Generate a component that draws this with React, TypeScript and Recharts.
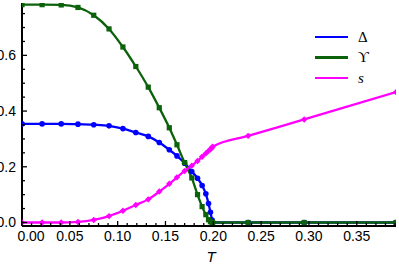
import React from 'react';
import { LineChart, Line, XAxis, YAxis, Legend } from 'recharts';

const T = [0, 0.021, 0.041, 0.0585, 0.075, 0.091, 0.1055, 0.119, 0.132, 0.1435, 0.154, 0.162, 0.170, 0.1775, 0.1835, 0.1883, 0.1922, 0.195, 0.197, 0.1987, 0.1993, 0.2364, 0.295, 0.391];
const DELTA = [0.354, 0.354, 0.354, 0.353, 0.351, 0.347, 0.337, 0.323, 0.309, 0.287, 0.261, 0.239, 0.213, 0.183, 0.159, 0.133, 0.103, 0.068, 0.037, 0.009, 0, 0, 0, 0];
const UPSILON = [0.782, 0.782, 0.781, 0.772, 0.744, 0.695, 0.630, 0.560, 0.486, 0.412, 0.340, 0.279, 0.215, 0.160, 0.100, 0.057, 0.028, 0.010, 0.003, 0, 0, 0, 0, 0];
const S = [0, 0, 0, 0.002, 0.009, 0.023, 0.042, 0.063, 0.083, 0.111, 0.139, 0.162, 0.185, 0.204, 0.221, 0.236, 0.248, 0.257, 0.263, 0.269, 0.272, 0.311, 0.370, 0.468];

const X_TICKS = Array.from({ length: 40 }, (_, i) => i / 100);
const Y_TICKS = Array.from({ length: 16 }, (_, i) => i / 20);

const data = T.map((t, i) => ({ T: t, delta: DELTA[i], ups: UPSILON[i], s: S[i] }));

const BLUE = '#0000ff';
const GREEN = '#0b620b';
const MAGENTA = '#ff00ff';
const FONT = '"Liberation Sans", Arial, sans-serif';

const isMajor = (v: number, step: number) => Math.abs(v / step - Math.round(v / step)) < 1e-6;

const XTickBottom = (props: any) => {
  const { x, y, payload } = props;
  const v = payload.value;
  const major = isMajor(v, 0.05);
  return (
    <g>
      <line x1={x} y1={y} x2={x} y2={y - (major ? 5 : 3)} stroke="#000" strokeWidth={1.3} />
      {major && (
        <text x={x + (v === 0 ? 9 : 0)} y={y + 15} textAnchor="middle" fontFamily={FONT} fontSize={14} fill="#000">
          {v.toFixed(2)}
        </text>
      )}
    </g>
  );
};

const XTickTop = (props: any) => {
  const { x, y, payload } = props;
  const major = isMajor(payload.value, 0.05);
  return <line x1={x} y1={y} x2={x} y2={y + (major ? 5 : 3)} stroke="#000" strokeWidth={1.3} />;
};

const YTickLeft = (props: any) => {
  const { x, y, payload } = props;
  const v = payload.value;
  const major = isMajor(v, 0.2);
  return (
    <g>
      <line x1={x} y1={y} x2={x + (major ? 5 : 3)} y2={y} stroke="#000" strokeWidth={1.3} />
      {major && (
        <text x={x - 6} y={y + 5} textAnchor="end" fontFamily={FONT} fontSize={14} fill="#000">
          {v.toFixed(1)}
        </text>
      )}
    </g>
  );
};

const YTickRight = (props: any) => {
  const { x, y, payload } = props;
  const major = isMajor(payload.value, 0.2);
  return <line x1={x} y1={y} x2={x - (major ? 5 : 3)} y2={y} stroke="#000" strokeWidth={1.3} />;
};

const CircleDot = (props: any) => {
  const { cx, cy, index } = props;
  if (cx == null || cy == null) return <g key={index} />;
  return <circle key={index} cx={cx} cy={cy} r={2.8} fill={BLUE} />;
};

const SquareDot = (props: any) => {
  const { cx, cy, index } = props;
  if (cx == null || cy == null) return <g key={index} />;
  return <rect key={index} x={cx - 2.6} y={cy - 2.6} width={5.2} height={5.2} fill={GREEN} />;
};

const DiamondDot = (props: any) => {
  const { cx, cy, index } = props;
  if (cx == null || cy == null) return <g key={index} />;
  const r = 3.2;
  return <polygon key={index} points={`${cx},${cy - r} ${cx + r},${cy} ${cx},${cy + r} ${cx - r},${cy}`} fill={MAGENTA} />;
};

const LEGEND_ITEMS = [
  { label: 'Δ', color: BLUE, italic: false },
  { label: 'ϒ', color: GREEN, italic: false },
  { label: 's', color: MAGENTA, italic: true },
];

const LegendContent = () => (
  <div style={{ display: 'flex', flexDirection: 'column' }}>
    {LEGEND_ITEMS.map((it) => (
      <div key={it.label} style={{ display: 'flex', alignItems: 'center', height: 20.5 }}>
        <span style={{ display: 'inline-block', width: 33, height: 2.5, background: it.color }} />
        <span
          style={{
            marginLeft: 10,
            fontFamily: '"Liberation Serif", "DejaVu Serif", serif',
            fontSize: 15,
            fontStyle: it.italic ? 'italic' : 'normal',
            color: '#000',
            lineHeight: '20px',
          }}
        >
          {it.label}
        </span>
      </div>
    ))}
  </div>
);

export default function App() {
  return (
    <div style={{ position: 'absolute', left: 0, top: 0, background: '#fff' }}>
      <LineChart width={399} height={266} data={data} margin={{ top: 3, right: 3, bottom: 0, left: 0 }}>
        <XAxis
          xAxisId="bottom"
          dataKey="T"
          type="number"
          domain={[0, 0.391]}
          allowDataOverflow
          ticks={X_TICKS}
          interval={0}
          tickSize={0}
          tickMargin={0}
          tickLine={false}
          tick={<XTickBottom />}
          axisLine={{ stroke: '#000', strokeWidth: 2 }}
          height={40}
          label={{ value: 'T', position: 'insideBottom', offset: 4, dx: 2, style: { fontFamily: FONT, fontSize: 15, fontStyle: 'italic', fill: '#000' } }}
        />
        <XAxis
          xAxisId="top"
          orientation="top"
          dataKey="T"
          type="number"
          domain={[0, 0.391]}
          allowDataOverflow
          ticks={X_TICKS}
          interval={0}
          tickSize={0}
          tickMargin={0}
          tickLine={false}
          tick={<XTickTop />}
          axisLine={{ stroke: '#000', strokeWidth: 2 }}
          height={0}
        />
        <YAxis
          yAxisId="left"
          type="number"
          domain={[-0.0126, 0.788]}
          allowDataOverflow
          ticks={Y_TICKS}
          interval={0}
          tickSize={0}
          tickMargin={0}
          tickLine={false}
          tick={<YTickLeft />}
          axisLine={{ stroke: '#000', strokeWidth: 2 }}
          width={22}
        />
        <YAxis
          yAxisId="right"
          orientation="right"
          type="number"
          domain={[-0.0126, 0.788]}
          allowDataOverflow
          ticks={Y_TICKS}
          interval={0}
          tickSize={0}
          tickMargin={0}
          tickLine={false}
          tick={<YTickRight />}
          axisLine={{ stroke: '#000', strokeWidth: 2 }}
          width={0}
        />
        <Legend
          layout="horizontal"
          verticalAlign="middle"
          align="center"
          content={<LegendContent />}
          wrapperStyle={{ position: 'absolute', left: 315, top: 26.5, width: 70 }}
        />
        <Line xAxisId="bottom" yAxisId="left" type="monotone" dataKey="delta" stroke={BLUE} strokeWidth={2.3} dot={<CircleDot />} isAnimationActive={false} />
        <Line xAxisId="bottom" yAxisId="left" type="monotone" dataKey="ups" stroke={GREEN} strokeWidth={2.3} dot={<SquareDot />} isAnimationActive={false} />
        <Line xAxisId="bottom" yAxisId="left" type="monotone" dataKey="s" stroke={MAGENTA} strokeWidth={2.3} dot={<DiamondDot />} isAnimationActive={false} />
      </LineChart>
    </div>
  );
}
